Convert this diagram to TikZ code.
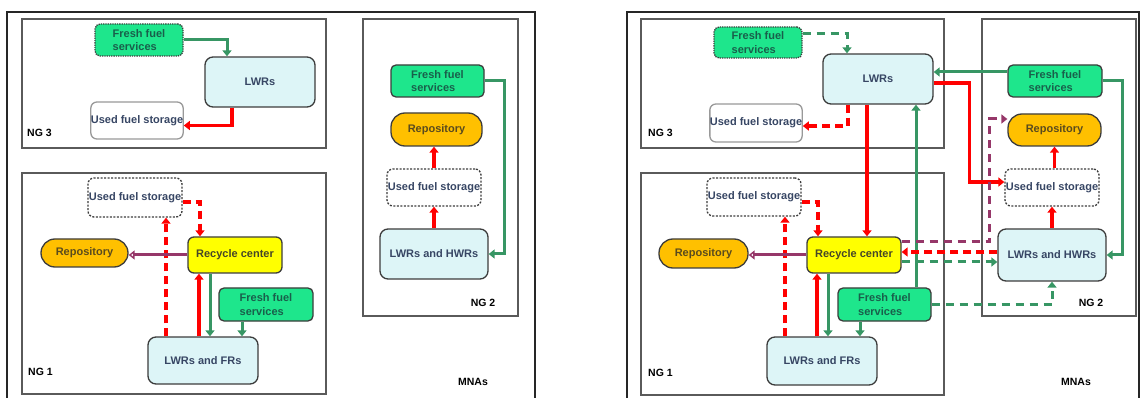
\documentclass[tikz,border=0pt]{standalone}
\usepackage{fontspec}
\setmainfont{Liberation Sans}
\usetikzlibrary{arrows.meta}
\definecolor{bdr}{RGB}{60,60,60}
\definecolor{frm}{RGB}{90,90,90}
\definecolor{txtblue}{RGB}{55,70,100}
\definecolor{txtgreen}{RGB}{25,95,75}
\definecolor{txtbrown}{RGB}{90,75,30}
\definecolor{txtolive}{RGB}{70,70,40}
\definecolor{ffgreen}{RGB}{30,230,140}
\definecolor{lwrfill}{RGB}{221,245,247}
\definecolor{repfill}{RGB}{255,192,0}
\definecolor{recfill}{RGB}{255,255,0}
\definecolor{agreen}{RGB}{55,150,100}
\definecolor{ared}{RGB}{255,0,0}
\definecolor{apurple}{RGB}{150,55,105}
\tikzset{
  box/.style={draw=bdr, line width=1.3pt, rounded corners=6pt, inner sep=0pt,
    font=\fontsize{11}{13.5}\selectfont\bfseries, align=center},
  fresh/.style={box, fill=ffgreen, text=txtgreen, align=left, rounded corners=5pt},
  freshdot/.style={fresh, densely dotted},
  lwr/.style={box, fill=lwrfill, text=txtblue, rounded corners=8pt},
  repo/.style={box, fill=repfill, text=txtbrown, rounded corners=14pt},
  recyc/.style={box, fill=recfill, text=txtolive},
  ufs/.style={box, fill=white, text=txtblue, draw=gray!80},
  ufsd/.style={box, fill=white, text=txtblue, dash pattern=on 2pt off 1.5pt},
  ngframe/.style={draw=frm, line width=1.4pt},
  outer/.style={draw=black!85, line width=1.4pt},
  lab/.style={font=\fontsize{10.5}{12}\selectfont\bfseries, text=black, inner sep=0pt},
  gar/.style={draw=agreen, line width=3pt, -{Triangle[length=6pt,width=9pt]}},
  gard/.style={gar, dash pattern=on 8pt off 6pt},
  rar/.style={draw=ared, line width=3.2pt, -{Triangle[length=6pt,width=9pt]}},
  rard/.style={rar, dash pattern=on 8pt off 5pt},
  par/.style={draw=apurple, line width=3pt, -{Triangle[open,length=6pt,width=9pt]}},
  pard/.style={draw=apurple, line width=3pt, dash pattern=on 8pt off 6pt, -{Triangle[length=6pt,width=9pt]}},
}
\begin{document}
\begin{tikzpicture}[x=1pt,y=-1pt]
\useasboundingbox (0,0) rectangle (1141,398);
% ===================== LEFT PANEL =====================
\draw[outer] (7,400) -- (7,12) -- (535,12) -- (535,400);
\draw[ngframe] (22,19) rectangle (326,148);
\draw[ngframe] (22,173) rectangle (326,394);
\draw[ngframe] (363,19) rectangle (518,316);
\node[lab, anchor=west] (ng3a) at (27,133) {NG 3};
\node[lab, anchor=west] (ng1a) at (28,372) {NG 1};
\node[lab] (ng2a) at (483,303) {NG 2};
\node[lab] (mnaa) at (473,382) {MNAs};
% NG3
\node[freshdot, minimum width=88pt, minimum height=32pt] (ffA) at (139,40) {Fresh fuel\\services};
\node[lwr, minimum width=110pt, minimum height=50pt] (lwrA) at (260,82) {LWRs};
\node[ufs, minimum width=92pt, minimum height=37pt] (ufsA3) at (137,120.5) {Used fuel storage};
\draw[gar] (ffA.east) -| ([xshift=-33pt]lwrA.north);
\draw[rar] ([xshift=-28pt]lwrA.south) |- ([yshift=-5pt]ufsA3.east);
% NG1
\node[ufsd, minimum width=94pt, minimum height=39pt] (ufsA1) at (135,197.5) {Used fuel storage};
\node[repo, minimum width=87pt, minimum height=28pt] (repA1) at (84.5,253) {Repository};
\node[recyc, minimum width=94pt, minimum height=36pt] (recA) at (235,255) {Recycle center};
\node[fresh, minimum width=94pt, minimum height=33pt] (ffA1) at (266,304.5) {Fresh fuel\\services};
\node[lwr, minimum width=110pt, minimum height=47pt] (lfrA) at (203,360.5) {LWRs and FRs};
\draw[rard] ([yshift=-4.5pt]ufsA1.east) -| ([xshift=-35pt]recA.north);
\draw[rard] ([xshift=-37pt]lfrA.north) -- ([xshift=-37pt]lfrA.north |- ufsA1.south);
\draw[rar] ([xshift=-4pt]lfrA.north) -- ([xshift=-4pt]lfrA.north |- recA.south);
\draw[gar] ([xshift=-25pt]recA.south) -- ([xshift=-25pt]recA.south |- lfrA.north);
\draw[gar] ([xshift=-24pt]ffA1.south) -- ([xshift=-24pt]ffA1.south |- lfrA.north);
\draw[par] (recA.west) -- (recA.west -| repA1.east);
% NG2
\node[fresh, minimum width=93pt, minimum height=32pt] (ffA2) at (437.5,81) {Fresh fuel\\services};
\node[repo, minimum width=91pt, minimum height=33pt] (repA2) at (436.5,129.5) {Repository};
\node[ufsd, minimum width=94pt, minimum height=37pt] (ufsA2) at (434,187.5) {Used fuel storage};
\node[lwr, minimum width=108pt, minimum height=50pt] (lhA) at (434,254) {LWRs and HWRs};
\draw[rar] (lhA.north) -- (ufsA2.south);
\draw[rar] (ufsA2.north) -- (ufsA2.north |- repA2.south);
\draw[gar] (ffA2.east) -| ([xshift=16pt]lhA.east) -- (lhA.east);
% ===================== RIGHT PANEL =====================
\draw[outer] (627,400) -- (627,12) -- (1139,12) -- (1139,400);
\draw[ngframe] (641,19) rectangle (944,148);
\draw[ngframe] (641,173) rectangle (944,395);
\draw[ngframe] (982,19) rectangle (1136,316);
\node[lab, anchor=west] (ng3b) at (648,133) {NG 3};
\node[lab, anchor=west] (ng1b) at (648,373) {NG 1};
\node[lab] (ng2b) at (1091,303) {NG 2};
\node[lab] (mnab) at (1076,382) {MNAs};
% NG3
\node[freshdot, minimum width=88pt, minimum height=31pt] (ffB3) at (758,42.5) {Fresh fuel\\services};
\node[lwr, minimum width=110pt, minimum height=50pt] (lwrB) at (878,79) {LWRs};
\node[ufs, minimum width=92pt, minimum height=38pt] (ufsB3) at (756,123) {Used fuel storage};
% NG1
\node[ufsd, minimum width=94pt, minimum height=38pt] (ufsB1) at (754,197) {Used fuel storage};
\node[repo, minimum width=89pt, minimum height=29pt] (repB1) at (703.5,253.5) {Repository};
\node[recyc, minimum width=94pt, minimum height=36pt] (recB) at (854,255) {Recycle center};
\node[fresh, minimum width=93pt, minimum height=33pt] (ffB1) at (884.5,304.5) {Fresh fuel\\services};
\node[lwr, minimum width=110pt, minimum height=48pt] (lfrB) at (822,361) {LWRs and FRs};
% NG2
\node[fresh, minimum width=94pt, minimum height=32pt] (ffB2) at (1055,81) {Fresh fuel\\services};
\node[repo, minimum width=93pt, minimum height=32pt] (repB2) at (1054.5,130) {Repository};
\node[ufsd, minimum width=94pt, minimum height=37pt] (ufsB2) at (1052,187.5) {Used fuel storage};
\node[lwr, minimum width=108pt, minimum height=52pt] (lhB) at (1052,255) {LWRs and HWRs};
% arrows NG3
\draw[gard] ([yshift=9pt]ffB3.east) -| ([xshift=-31pt]lwrB.north);
\draw[rard] ([xshift=-30pt]lwrB.south) |- ([yshift=-3pt]ufsB3.east);
\draw[rar] ([xshift=-11pt]lwrB.south) -- ([xshift=-11pt]lwrB.south |- recB.north);
\draw[rar] ([yshift=-4pt]lwrB.east) -| ([xshift=-35pt,yshift=5.5pt]ufsB2.west) -- ([yshift=5.5pt]ufsB2.west);
\draw[gar] ([yshift=9pt]ffB2.west) -- ([yshift=9pt]ffB2.west -| lwrB.east);
\draw[gar] (ffB2.east) -| ([xshift=16pt]lhB.east) -- (lhB.east);
\draw[gar] ([xshift=31.5pt]ffB1.north) -- ([xshift=31.5pt]ffB1.north |- lwrB.south);
% arrows between NG1 and NG2
\draw[pard] ([yshift=13pt]recB.east) -| ([xshift=-18pt,yshift=11pt]repB2.west) -- ([yshift=11pt]repB2.west);
\draw[rard] ([yshift=3pt]lhB.west) -- ([yshift=3pt]lhB.west -| recB.east);
\draw[gard] ([yshift=-7pt]recB.east) -- ([yshift=-7pt]recB.east -| lhB.west);
\draw[gard] (ffB1.east) -| (lhB.south);
% NG2 internal
\draw[rar] (lhB.north) -- (ufsB2.south);
\draw[rar] ([xshift=2.5pt]ufsB2.north) -- ([xshift=2.5pt]ufsB2.north |- repB2.south);
% NG1 internal
\draw[rard] ([yshift=-5pt]ufsB1.east) -| ([xshift=-36pt]recB.north);
\draw[rard] ([xshift=-37pt]lfrB.north) -- ([xshift=-37pt]lfrB.north |- ufsB1.south);
\draw[rar] ([xshift=-5pt]lfrB.north) -- ([xshift=-5pt]lfrB.north |- recB.south);
\draw[gar] ([xshift=-26pt]recB.south) -- ([xshift=-26pt]recB.south |- lfrB.north);
\draw[gar] ([xshift=-24.5pt]ffB1.south) -- ([xshift=-24.5pt]ffB1.south |- lfrB.north);
\draw[par] (recB.west) -- (recB.west -| repB1.east);
\end{tikzpicture}
\end{document}
